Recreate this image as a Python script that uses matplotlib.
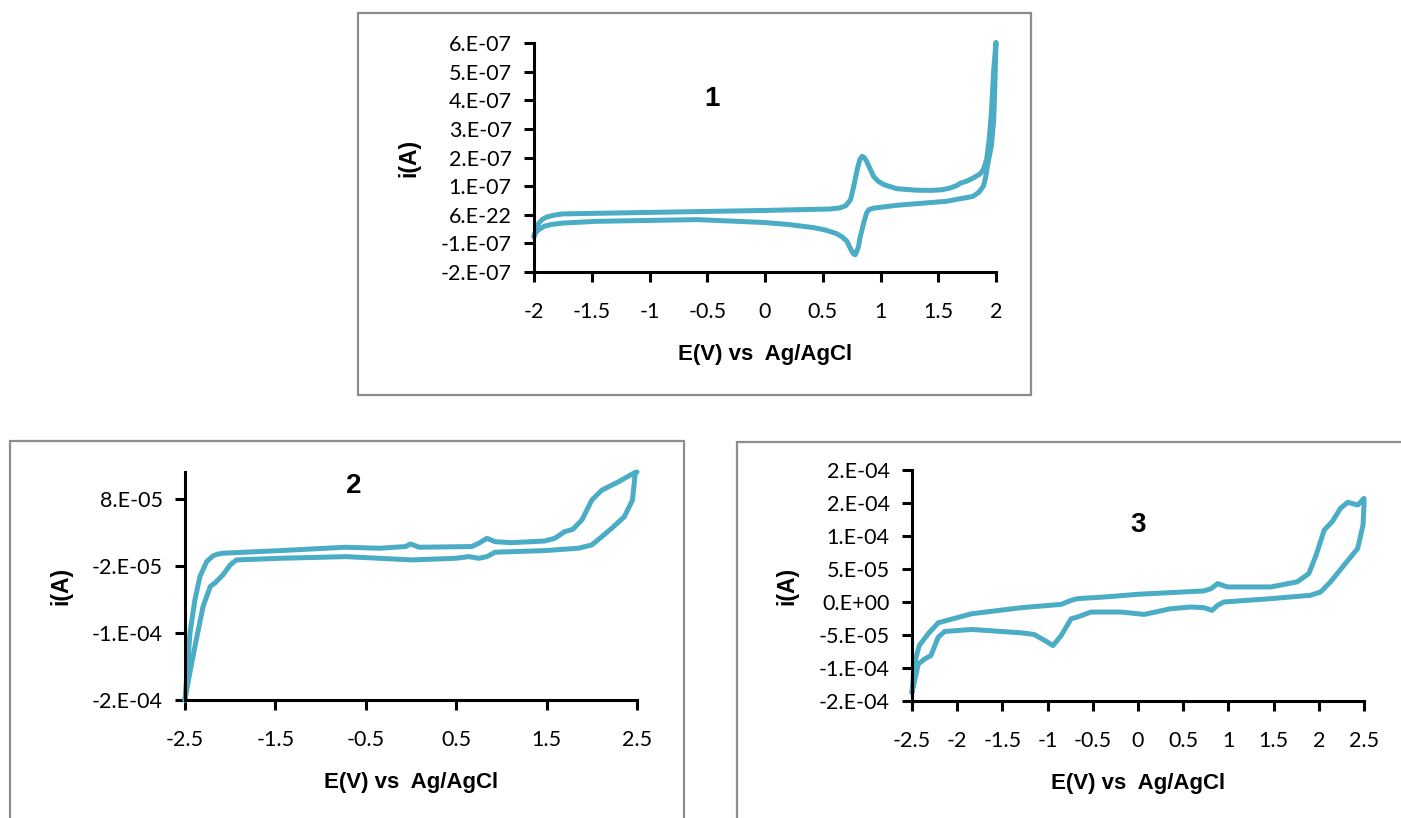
import matplotlib
matplotlib.use("Agg")
import matplotlib.pyplot as plt
from matplotlib.patches import Rectangle
from matplotlib import font_manager

# ---------------- data ----------------
# Panel 1: potential (V) and current (units of 1e-7 A), closed CV loop
e1 = [-2.00, -1.98, -1.96, -1.93, -1.89, -1.82, -1.75, -0.88, -0.01, 0.56, 0.65, 0.70,
      0.74, 0.76, 0.78, 0.80, 0.82, 0.84, 0.86, 0.88, 0.91, 0.94, 0.98, 1.03, 1.14,
      1.30, 1.43, 1.53, 1.60, 1.66, 1.69, 1.75, 1.80, 1.86, 1.89, 1.92, 1.94, 1.96,
      1.98, 2.00,
      1.99, 1.98, 1.96, 1.93, 1.91, 1.89, 1.85, 1.80, 1.57, 1.14, 0.94, 0.90, 0.88,
      0.86, 0.84, 0.82, 0.81, 0.79, 0.78, 0.765, 0.75, 0.73, 0.71, 0.67, 0.62, 0.52,
      0.42, 0.20, -0.01, -0.59, -1.46, -1.75, -1.85, -1.91, -1.96, -1.99, -2.00]
i1 = [-0.76, -0.50, -0.30, -0.17, -0.08, -0.01, 0.03, 0.09, 0.15, 0.20, 0.24, 0.32,
      0.52, 0.85, 1.22, 1.60, 1.92, 2.04, 2.00, 1.86, 1.60, 1.34, 1.17, 1.05, 0.91,
      0.86, 0.85, 0.87, 0.93, 1.02, 1.10, 1.18, 1.28, 1.42, 1.57, 1.95, 2.60, 3.55,
      5.06, 6.02,
      4.50, 3.30, 2.40, 1.80, 1.30, 0.99, 0.78, 0.64, 0.47, 0.33, 0.23, 0.18, 0.06,
      -0.20, -0.52, -0.85, -1.11, -1.32, -1.40, -1.36, -1.26, -1.10, -0.93, -0.78, -0.66,
      -0.53, -0.45, -0.34, -0.27, -0.17, -0.23, -0.29, -0.34, -0.40, -0.52, -0.65, -0.76]

# Panel 2: potential (V) and current (units of 1e-5 A)
e2 = [-2.50, -2.445, -2.39, -2.335, -2.26, -2.19, -2.14, -2.08, -1.45, -0.72, -0.35,
      -0.06, -0.005, 0.09, 0.67, 0.75, 0.84, 0.93, 1.11, 1.48, 1.59, 1.70, 1.79, 1.89,
      2.00, 2.11, 2.29, 2.47, 2.50,
      2.48, 2.45, 2.36, 2.22, 2.11, 2.00, 1.85, 1.48, 0.93, 0.84, 0.75, 0.64, 0.49,
      0.01, -0.72, -1.45, -1.93, -2.00, -2.08, -2.17, -2.22, -2.30, -2.39, -2.46, -2.50]
i2 = [-22.0, -12.0, -7.05, -3.59, -1.36, -0.51, -0.25, -0.11, 0.28, 0.78, 0.63,
      0.88, 1.27, 0.78, 0.88, 1.37, 2.11, 1.61, 1.46, 1.71, 2.11, 3.10, 3.45, 4.84,
      7.81, 9.29, 10.5, 11.87, 12.0,
      11.8, 7.81, 5.33, 3.60, 2.35, 1.12, 0.63, 0.28, 0.04, -0.62, -0.87, -0.62, -0.87,
      -1.11, -0.62, -0.87, -1.11, -1.85, -3.34, -4.57, -5.07, -8.05, -14.0, -18.9, -22.0]

# Panel 3: potential (V) and current (units of 1e-5 A)
e3 = [-2.50, -2.47, -2.42, -2.32, -2.21, -1.84, -1.29, -0.85, -0.74, -0.67, -0.37,
      0.00, 0.73, 0.81, 0.88, 0.99, 1.47, 1.76, 1.89, 1.97, 2.06, 2.15, 2.24, 2.32,
      2.43, 2.46, 2.50,
      2.50, 2.49, 2.43, 2.28, 2.13, 2.02, 1.91, 1.47, 0.95, 0.88, 0.82, 0.73, 0.59,
      0.36, 0.07, -0.19, -0.52, -0.67, -0.74, -0.85, -0.94, -1.03, -1.15, -1.29, -1.51,
      -1.84, -2.14, -2.21, -2.29, -2.36, -2.43, -2.50]
i3 = [-13.7, -9.14, -6.60, -4.80, -3.15, -1.78, -0.86, -0.36, 0.25, 0.51, 0.76,
      1.17, 1.68, 2.03, 2.79, 2.28, 2.28, 3.05, 4.31, 7.10, 10.9, 12.2, 14.2, 15.1,
      14.7, 15.1, 15.7,
      14.7, 11.7, 8.10, 5.60, 3.05, 1.52, 1.02, 0.51, 0.00, -0.51, -1.27, -0.86, -0.76,
      -1.02, -1.88, -1.52, -1.52, -2.28, -2.54, -5.08, -6.60, -5.84, -4.92, -4.67, -4.47,
      -4.16, -4.47, -5.33, -8.10, -8.63, -9.40, -13.7]

# Axis ticks and their printed labels
x1_ticks = [-2, -1.5, -1, -0.5, 0, 0.5, 1, 1.5, 2]
x1_labels = ["-2", "-1.5", "-1", "-0.5", "0", "0.5", "1", "1.5", "2"]
y1_ticks = [6e-7, 5e-7, 4e-7, 3e-7, 2e-7, 1e-7, 0, -1e-7, -2e-7]
y1_labels = ["6.E-07", "5.E-07", "4.E-07", "3.E-07", "2.E-07", "1.E-07", "6.E-22",
             "-1.E-07", "-2.E-07"]

x2_ticks = [-2.5, -1.5, -0.5, 0.5, 1.5, 2.5]
x2_labels = ["-2.5", "-1.5", "-0.5", "0.5", "1.5", "2.5"]
y2_ticks = [8e-5, -2e-5, -1.2e-4, -2.2e-4]
y2_labels = ["8.E-05", "-2.E-05", "-1.E-04", "-2.E-04"]

x3_ticks = [-2.5, -2, -1.5, -1, -0.5, 0, 0.5, 1, 1.5, 2, 2.5]
x3_labels = ["-2.5", "-2", "-1.5", "-1", "-0.5", "0", "0.5", "1", "1.5", "2", "2.5"]
y3_ticks = [2e-4, 1.5e-4, 1e-4, 5e-5, 0, -5e-5, -1e-4, -1.5e-4]
y3_labels = ["2.E-04", "2.E-04", "1.E-04", "5.E-05", "0.E+00", "-5.E-05", "-1.E-04",
             "-2.E-04"]

x_label = "E(V) vs  Ag/AgCl"
y_label = "i(A)"

# ---------------- styling ----------------
names = {f.name for f in font_manager.fontManager.ttflist}
main = "Lato" if "Lato" in names else "DejaVu Sans"
tick_font = [main, "DejaVu Sans"]
label_font = ["Liberation Sans", "DejaVu Sans"]
num_font = ["Liberation Sans", "DejaVu Sans"]

LINE = "#4BACC6"
W, H = 1401, 818
fig = plt.figure(figsize=(W / 100, H / 100), dpi=100)


def px_rect(x0, y0, x1, y1):
    return [x0 / W, 1 - y1 / H, (x1 - x0) / W, (y1 - y0) / H]


# chart-area frames
for (x0, y0, x1, y1) in [(358, 13, 1031, 395), (10, 441, 684, 830), (737, 442, 1420, 830)]:
    fig.patches.append(Rectangle((x0 / W, 1 - y1 / H), (x1 - x0) / W, (y1 - y0) / H,
                                 transform=fig.transFigure, fill=False,
                                 edgecolor="#8c8c8c", linewidth=1.6, zorder=0))


def setup(ax, xlim, ylim, xt, xl, yt, yl, title, tpos, ylabel_x):
    ax.set_xlim(*xlim)
    ax.set_ylim(*ylim)
    for s in ("top", "right"):
        ax.spines[s].set_visible(False)
    for s in ("left", "bottom"):
        ax.spines[s].set_linewidth(2.2)
        ax.spines[s].set_color("black")
    ax.set_xticks(xt)
    ax.set_xticklabels(xl, fontfamily=tick_font, fontsize=15.5)
    ax.set_yticks(yt)
    ax.set_yticklabels(yl, fontfamily=tick_font, fontsize=15.5)
    ax.tick_params(axis="both", direction="out", length=7, width=2.2, color="black")
    ax.tick_params(axis="y", pad=9)
    ax.tick_params(axis="x", pad=14.5)
    ax.set_xlabel(x_label, fontfamily=label_font, fontsize=16, fontweight="bold",
                  labelpad=16)
    ax.set_ylabel(y_label, fontfamily=label_font, fontsize=16.5, fontweight="bold")
    ax.yaxis.set_label_coords(ylabel_x, 0.5)
    ax.text(tpos[0], tpos[1], title, transform=ax.transAxes, fontfamily=num_font,
            fontsize=20, fontweight="bold", ha="center", va="center")
    ax.patch.set_alpha(0)


def draw(ax, e, i, scale):
    ax.plot(e, [v * scale for v in i], color=LINE, lw=3.6, solid_joinstyle="round",
            solid_capstyle="round", clip_on=False)


# Panel 1
ax1 = fig.add_axes(px_rect(534, 43, 996, 272))
draw(ax1, e1, i1, 1e-7)
setup(ax1, (-2, 2), (-2e-7, 6e-7), x1_ticks, x1_labels, y1_ticks, y1_labels,
      "1", (0.385, 0.755), -0.245)

# Panel 2
ax2 = fig.add_axes(px_rect(185, 472, 637, 700))
draw(ax2, e2, i2, 1e-5)
setup(ax2, (-2.5, 2.5), (-2.2e-4, 1.2e-4), x2_ticks, x2_labels, y2_ticks, y2_labels,
      "2", (0.374, 0.94), -0.25)

# Panel 3
ax3 = fig.add_axes(px_rect(912, 470, 1364, 701))
draw(ax3, e3, i3, 1e-5)
setup(ax3, (-2.5, 2.5), (-1.5e-4, 2e-4), x3_ticks, x3_labels, y3_ticks, y3_labels,
      "3", (0.501, 0.76), -0.252)

fig.savefig("out.png", dpi=100)
